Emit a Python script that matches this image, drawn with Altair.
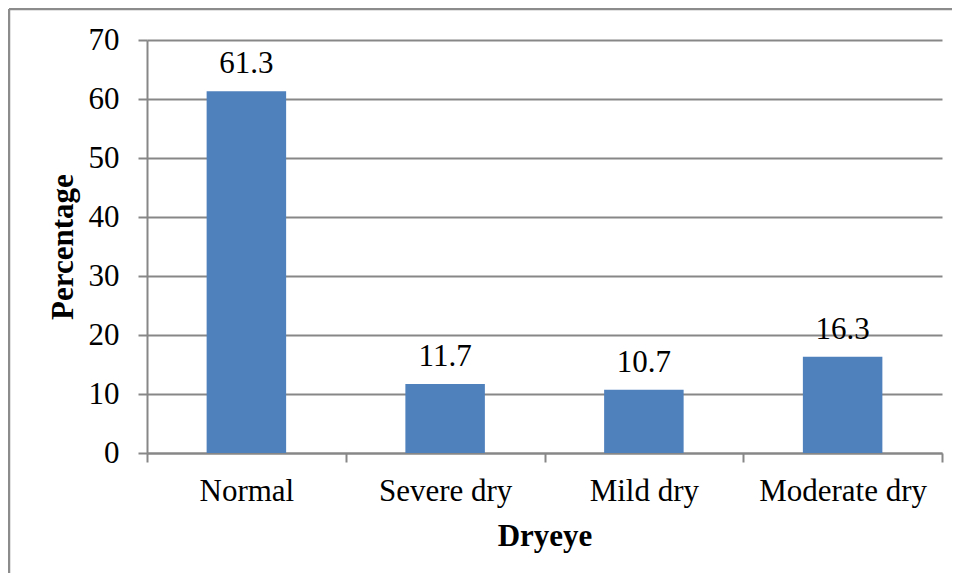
import altair as alt
import pandas as pd

categories = ["Normal", "Severe dry", "Mild dry", "Moderate dry"]
percentages = [61.3, 11.7, 10.7, 16.3]
y_ticks = [0, 10, 20, 30, 40, 50, 60, 70]

df = pd.DataFrame({
    "Dryeye": categories,
    "Percentage": percentages,
    "label": [f"{v:.1f}" for v in percentages],
})

W, H = 795, 413
FONT = "Liberation Serif"
GRAY = "#878787"
BAR = "#4F81BD"
FS = 31

x_enc = alt.X(
    "Dryeye:N",
    sort=categories,
    scale=alt.Scale(paddingInner=0, paddingOuter=0),
    axis=alt.Axis(
        title="Dryeye",
        labelAngle=0,
        tickBand="extent",
        grid=False,
        domainColor=GRAY,
        domainWidth=2,
        tickColor=GRAY,
        tickWidth=2,
        tickSize=9,
        labelFont=FONT,
        labelFontSize=FS,
        labelColor="black",
        labelPadding=14,
        titleFont=FONT,
        titleFontSize=FS,
        titleFontWeight="bold",
        titleColor="black",
        titlePadding=15,
    ),
)
y_enc = alt.Y(
    "Percentage:Q",
    scale=alt.Scale(domain=[0, 70], nice=False),
    axis=alt.Axis(
        title="Percentage",
        values=y_ticks,
        grid=True,
        gridColor=GRAY,
        gridWidth=2,
        domainColor=GRAY,
        domainWidth=2,
        tickColor=GRAY,
        tickWidth=2,
        tickSize=9,
        labelFont=FONT,
        labelFontSize=FS,
        labelColor="black",
        labelPadding=19,
        titleFont=FONT,
        titleFontSize=FS,
        titleFontWeight="bold",
        titleColor="black",
        titlePadding=9,
    ),
)

bars = alt.Chart(df).mark_bar(color=BAR, width=alt.RelativeBandSize(0.4)).encode(x=x_enc, y=y_enc)
labels = alt.Chart(df).mark_text(
    dy=-18, baseline="alphabetic", font=FONT, fontSize=FS, color="black"
).encode(x=alt.X("Dryeye:N", sort=categories), y="Percentage:Q", text="label:N")

frame_df = pd.DataFrame({"k": [0]})
top_line = alt.Chart(frame_df).mark_rule(color="#8c8c8c", strokeWidth=2.5).encode(
    x=alt.value(-138), x2=alt.value(W + 10), y=alt.value(-31)
)
left_line = alt.Chart(frame_df).mark_rule(color="#8c8c8c", strokeWidth=2.5).encode(
    x=alt.value(-138), y=alt.value(-31), y2=alt.value(H + 140)
)

chart = alt.layer(bars, labels, top_line, left_line).properties(
    width=W,
    height=H,
    autosize=alt.AutoSizeParams(type="none"),
    padding={"left": 139, "top": 32, "right": 10, "bottom": 120},
    background="white",
).configure_view(stroke=None)

chart.save("out.html", embed_options={"renderer": "svg", "actions": False})
